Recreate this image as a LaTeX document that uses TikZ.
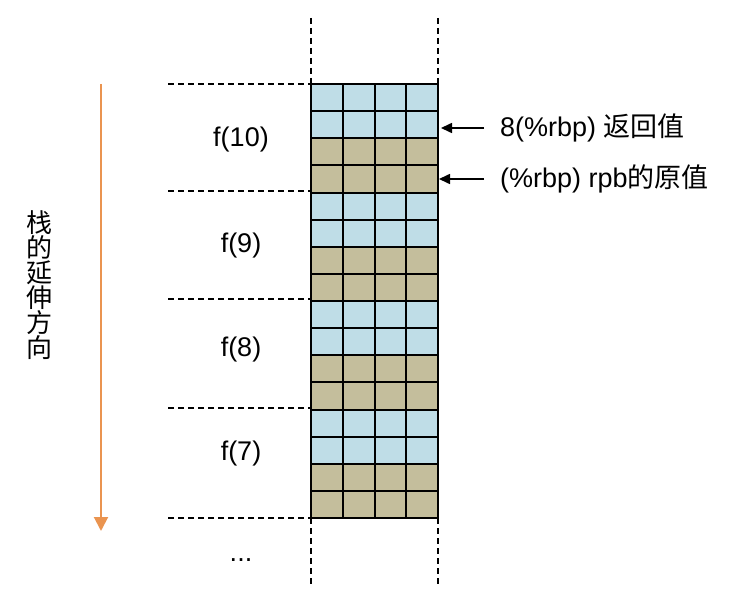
\documentclass[tikz,border=0pt]{standalone}
\usepackage{fontspec}
\setmainfont{Liberation Sans}
\newfontfamily\cjk{Noto Sans CJK SC}
\usetikzlibrary{arrows.meta}
\definecolor{cellblue}{HTML}{BFDDE7}
\definecolor{celltan}{HTML}{C4BE9C}
\definecolor{dirorange}{HTML}{EA9450}
\tikzset{
  gridline/.style={line width=2pt, black},
  dashline/.style={line width=1.8pt, black, dash pattern=on 6pt off 4pt},
  lbl/.style={font=\fontsize{27pt}{31pt}\selectfont, inner sep=0pt},
  ptr/.style={line width=1.6pt, -{Triangle[length=11pt,width=10pt]}},
  dir/.style={line width=2pt, dirorange, -{Triangle[length=14pt,width=14pt]}}
}
\begin{document}
\begin{tikzpicture}[x=1pt,y=-1pt]
\useasboundingbox (0,0) rectangle (732,602);
\def\rowh{27.125}
% cells
\foreach \r in {0,...,15}{
  \pgfmathtruncatemacro{\m}{mod(\r,4)}
  \ifnum\m<2 \def\cc{cellblue}\else\def\cc{celltan}\fi
  \fill[\cc] (311,{84+\r*\rowh}) rectangle (438,{84+(\r+1)*\rowh});
}
% grid lines
\foreach \r in {0,...,16}{
  \draw[gridline] (311,{84+\r*\rowh}) -- (438,{84+\r*\rowh});
}
\foreach \c in {0,...,4}{
  \draw[gridline] ({311+\c*31.75},84) -- ({311+\c*31.75},518);
}
% coordinates
\coordinate (gtl) at (311,84);
\coordinate (gtr) at (438,84);
\coordinate (gbl) at (311,518);
\coordinate (gbr) at (438,518);
\coordinate (ttl) at (311,18);
\coordinate (ttr) at (438,18);
\coordinate (bbl) at (311,584);
\coordinate (bbr) at (438,584);
% dashed verticals
\draw[dashline] (ttl) -- (gtl);
\draw[dashline] (ttr) -- (gtr);
\draw[dashline] (gbl) -- (bbl);
\draw[dashline] (gbr) -- (bbr);
% frame separators
\foreach \y [count=\i] in {84,191,299,408,518}{
  \coordinate (s\i) at (168,\y);
  \coordinate (e\i) at (311,\y);
  \draw[dashline] (s\i) -- (e\i);
}
% frame labels
\node[lbl] (f10) at (241,140) {f(10)};
\node[lbl] (f9) at (241,246) {f(9)};
\node[lbl] (f8) at (241,350) {f(8)};
\node[lbl] (f7) at (241,454) {f(7)};
\node[lbl] (dots) at (241,560) {...};
% direction arrow
\coordinate (ds) at (101,84);
\coordinate (de) at (101,531);
\draw[dir] (ds) -- (de);
\node[font=\cjk\fontsize{26pt}{25pt}\selectfont, align=center, inner sep=0pt] (dirtxt) at (40,285) {栈\\的\\延\\伸\\方\\向};
% pointers
\node[lbl, anchor=west] (ret) at (500,128) {8(\%rbp) {\cjk 返回值}};
\node[lbl, anchor=west] (old) at (500,179) {(\%rbp) rpb{\cjk 的原值}};
\coordinate (p1) at (441,128);
\coordinate (p2) at (439,179);
\draw[ptr] ([xshift=-16pt]ret.west) -- (p1);
\draw[ptr] ([xshift=-16pt]old.west) -- (p2);
\end{tikzpicture}
\end{document}
